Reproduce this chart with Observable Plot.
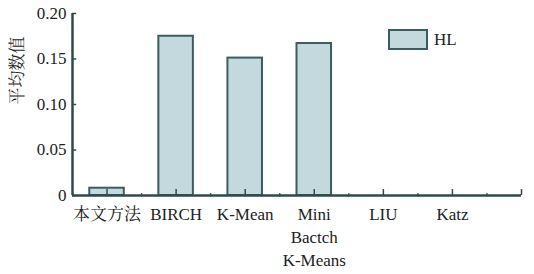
<!DOCTYPE html>
<html>
<head>
<meta charset="utf-8">
<script src="https://cdn.jsdelivr.net/npm/d3@7"></script>
<script src="https://cdn.jsdelivr.net/npm/@observablehq/plot@0.6"></script>
<style>
  html, body { margin: 0; padding: 0; background: #fff; }
  #wrap { position: relative; width: 534px; height: 274px; }
  #wrap svg text, #wrap svg tspan { font-family: 'Liberation Serif', 'Noto Serif CJK SC', serif !important; }
  #legend { position: absolute; left: 388px; top: 29px; display: flex; align-items: center;
            font-family: 'Liberation Serif', serif; font-size: 17px; color: #222; }
  #legend .sw { width: 36px; height: 17px; background: #c4d9de; border: 2px solid #3d5c5e; margin-right: 6px; }
</style>
</head>
<body>
<div id="wrap"><div id="legend"><div class="sw"></div><span>HL</span></div></div>
<script>
const categories = ["本文方法", "BIRCH", "K-Mean", "Mini\nBactch\nK-Means", "LIU", "Katz"];
const hlValues = [0.008, 0.175, 0.151, 0.167, 0, 0];
const yTicks = [0, 0.05, 0.10, 0.15, 0.20];
const yTickLabels = ["0", "0.05", "0.10", "0.15", "0.20"];
const seriesName = "HL";
const yLabel = "平均数值";

const data = categories.map((c, i) => ({cat: c, pos: i + 1, value: hlValues[i]}));
const majorX = d3.range(1, categories.length + 2);
const minorX = d3.range(1, categories.length + 1).map(v => v + 0.5);

const axisColor = "#2f4a4c";

const chart = Plot.plot({
  width: 534,
  height: 274,
  marginLeft: 72,
  marginRight: 13,
  marginTop: 13,
  marginBottom: 79,
  style: {fontSize: "17px", color: "#222", background: "#fff"},
  x: {type: "linear", domain: [0.5, categories.length + 1], axis: null},
  y: {domain: [0, 0.2], axis: null},
  marks: [
    Plot.rectY(data.filter(d => d.value > 0), {
      x1: d => d.pos - 0.25, x2: d => d.pos + 0.25, y1: 0, y2: "value",
      fill: "#c4d9de", stroke: "#3d5c5e", strokeWidth: 2
    }),
    // y axis ticks (inward)
    Plot.ruleY(yTicks, {y: d => d, x1: 0.5, x2: 0.56, stroke: axisColor, strokeWidth: 1.5}),
    // y tick labels
    Plot.text(yTicks, {y: d => d, frameAnchor: "left", dx: -6, textAnchor: "end",
      text: (d, i) => yTickLabels[i], fontSize: 17, fill: "#222"}),
    // x major ticks (upward)
    Plot.ruleX(majorX, {x: d => d, y1: 0, y2: 0.0065, stroke: axisColor, strokeWidth: 1.5}),
    // x minor ticks
    Plot.ruleX(minorX, {x: d => d, y1: -0.0015, y2: 0.002, stroke: axisColor, strokeWidth: 1.5}),
    // axis lines
    Plot.ruleY([0], {x1: 0.5, x2: categories.length + 1, stroke: axisColor, strokeWidth: 2.5}),
    Plot.ruleX([0.5], {y1: 0, y2: 0.2, stroke: axisColor, strokeWidth: 2.5}),
    // x tick labels
    Plot.text(data, {x: "pos", frameAnchor: "bottom", dy: 8, lineAnchor: "top", lineHeight: 1.35,
      text: "cat", fontSize: 17, fill: "#222"}),
    // y label
    Plot.text([yLabel], {frameAnchor: "left", dx: -55, rotate: -90, fontSize: 17, fill: "#222"})
  ]
});
document.getElementById("wrap").prepend(chart);
</script>
</body>
</html>
